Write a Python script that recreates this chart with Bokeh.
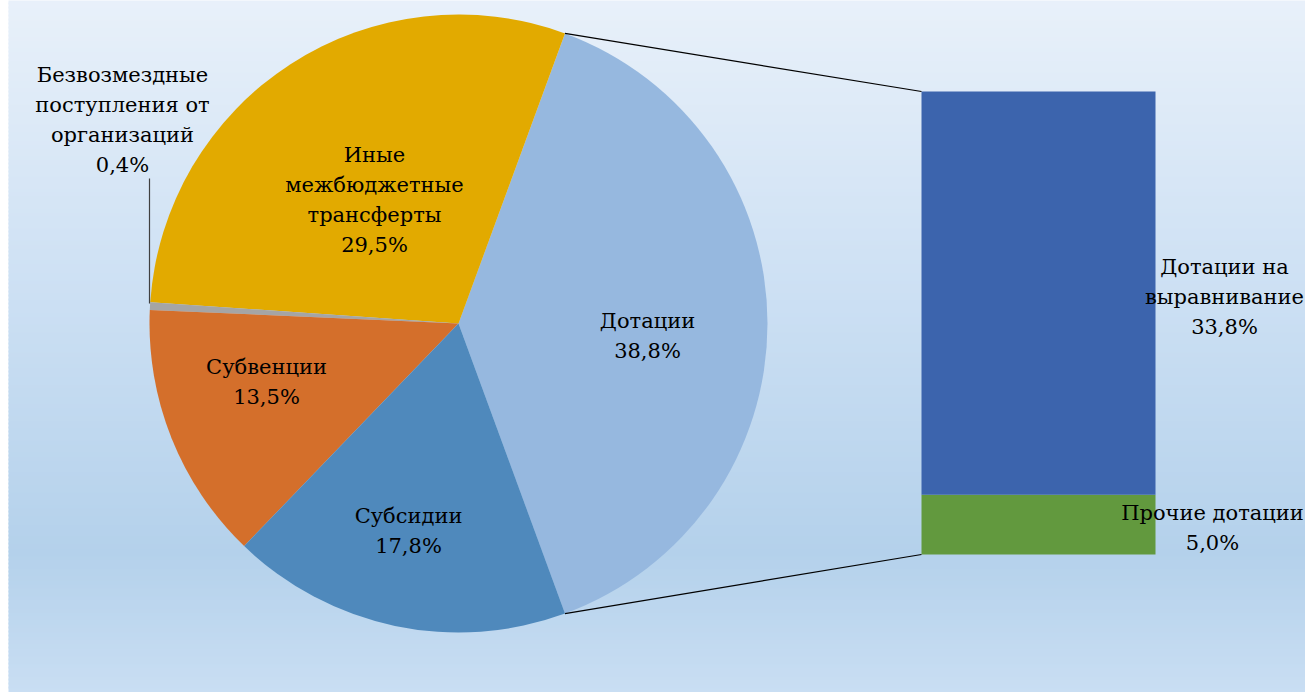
import numpy as np
from bokeh.plotting import figure
from bokeh.models import Range1d, Label
from bokeh.embed import file_html
from bokeh.resources import INLINE

# ---- data ----
pie_labels = [["Дотации"], ["Иные", "межбюджетные", "трансферты"],
              ["Безвозмездные", "поступления от", "организаций"],
              ["Субвенции"], ["Субсидии"]]
pie_values = [38.8, 29.5, 0.4, 13.5, 17.8]
pie_colors = ["#96b8df", "#e2aa00", "#a5a5a5", "#d46f2b", "#4f89bc"]

bar_labels = [["Прочие дотации"], ["Дотации на", "выравнивание"]]
bar_values = [5.0, 33.8]
bar_colors = ["#62993e", "#3c64ad"]

W, H = 1305, 692
p = figure(width=W, height=H, x_range=Range1d(0, W), y_range=Range1d(0, H),
           output_backend="svg", toolbar_location=None, min_border=0)
p.axis.visible = False
p.grid.visible = False
p.outline_line_color = None
p.background_fill_color = "#ffffff"
p.border_fill_color = "#ffffff"

def sy(y):
    return H - y

# gradient background (overlapping strips to avoid seams)
stops_t = [0.0, 0.45, 0.80, 1.0]
stops_c = [(233, 241, 250), (203, 223, 243), (180, 209, 235), (201, 222, 243)]
n = 173
edges = np.linspace(0, H, n + 1)
cols = []
for i in range(n):
    t = 1 - (edges[i] + edges[i + 1]) / 2 / 700.0
    c = [int(round(np.interp(t, stops_t, [s[k] for s in stops_c]))) for k in range(3)]
    cols.append("#%02x%02x%02x" % tuple(c))
p.quad(left=8, right=W, bottom=edges[:-1], top=edges[1:] + 2, fill_color=cols, line_color=None)

# pie
cx, cy, R = 458, sy(323), 309
fr = np.array(pie_values) / sum(pie_values)
start0 = -fr[0] * np.pi
ends = start0 + np.cumsum(fr) * 2 * np.pi
starts = np.concatenate([[start0], ends[:-1]])
p.wedge(x=cx, y=cy, radius=R, start_angle=starts, end_angle=ends, direction="anticlock",
        fill_color=pie_colors, line_color=None)

# bar of pie
bx0, bx1 = 921, 1155
bbot = sy(554)
scale = 463 / sum(bar_values)
tops = bbot + np.cumsum(bar_values) * scale
bots = np.concatenate([[bbot], tops[:-1]])
p.quad(left=bx0, right=bx1, bottom=bots, top=tops, fill_color=bar_colors, line_color=None)

# connector lines
a = fr[0] * np.pi
p.line([cx + R * np.cos(a), bx0], [cy + R * np.sin(a), tops[-1]], line_color="black", line_width=1.2)
p.line([cx + R * np.cos(-a), bx0], [cy + R * np.sin(-a), bbot], line_color="black", line_width=1.2)

# leader line for the small slice
p.line([149, 149], [sy(178), sy(303)], line_color="#404040", line_width=1.2)

def fmt(v):
    return ("%.1f" % v).replace(".", ",") + "%"

all_labels = pie_labels + bar_labels
all_values = pie_values + bar_values
label_pos = [(647, 335), (374, 199), (122, 119), (266, 381), (408, 530), (1212, 527), (1224, 296)]
LH = 30
for (lx, ly), l, v in zip(label_pos, all_labels, all_values):
    lines = l + [fmt(v)]
    k = len(lines)
    for i, s in enumerate(lines):
        yy = ly + (i - (k - 1) / 2) * LH
        p.add_layout(Label(x=lx, y=sy(yy), text=s, text_font="DejaVu Serif",
                           text_font_size="21px", text_align="center", text_baseline="middle",
                           text_color="black"))

open("out.html", "w").write(file_html(p, INLINE))
